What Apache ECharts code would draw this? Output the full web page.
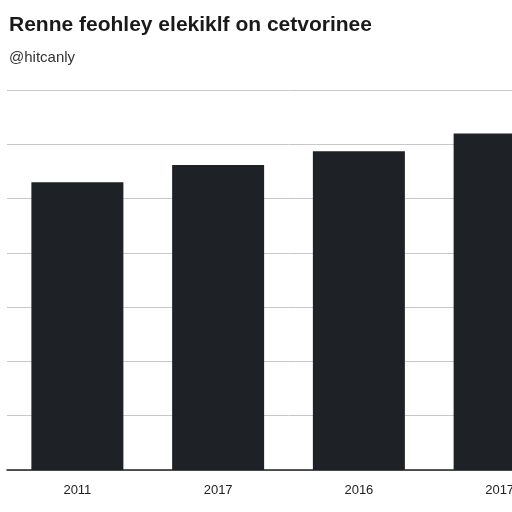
<!DOCTYPE html>
<html>
<head>
<meta charset="utf-8">
<script src="https://cdn.jsdelivr.net/npm/echarts@6/dist/echarts.min.js"></script>
<style>html,body{margin:0;background:#fff;overflow:hidden;width:512px;height:512px}#chart{width:570px;height:512px}</style>
</head>
<body>
<div id="chart"></div>
<script>
const years = ["2011", "2017", "2016", "2017"];
const values = [5.3, 5.62, 5.87, 6.2];

const chart = echarts.init(document.getElementById("chart"));
chart.setOption({
  animation: false,
  title: {
    text: "Renne feohley elekiklf on cetvorinee",
    subtext: "@hitcanly",
    left: 4,
    top: 10,
    textStyle: { fontFamily: "Liberation Sans", fontSize: 21, fontWeight: "bold", color: "#1a1a1a" },
    subtextStyle: { fontFamily: "Liberation Sans", fontSize: 15, color: "#333" },
    itemGap: 14
  },
  grid: { left: 7, right: 0, top: 90, bottom: 42 },
  xAxis: {
    type: "category",
    data: years,
    axisTick: { show: false },
    axisLine: { lineStyle: { color: "#222", width: 1.5 } },
    axisLabel: { color: "#222", fontSize: 13, margin: 14, fontFamily: "Liberation Sans" }
  },
  yAxis: {
    type: "value",
    min: 0,
    max: 7,
    interval: 1,
    axisLabel: { show: false },
    splitLine: { lineStyle: { color: "#c8c8c8" } }
  },
  series: [{
    type: "bar",
    data: values,
    barWidth: 92,
    itemStyle: { color: "#1e2125" }
  }]
});
</script>
</body>
</html>
